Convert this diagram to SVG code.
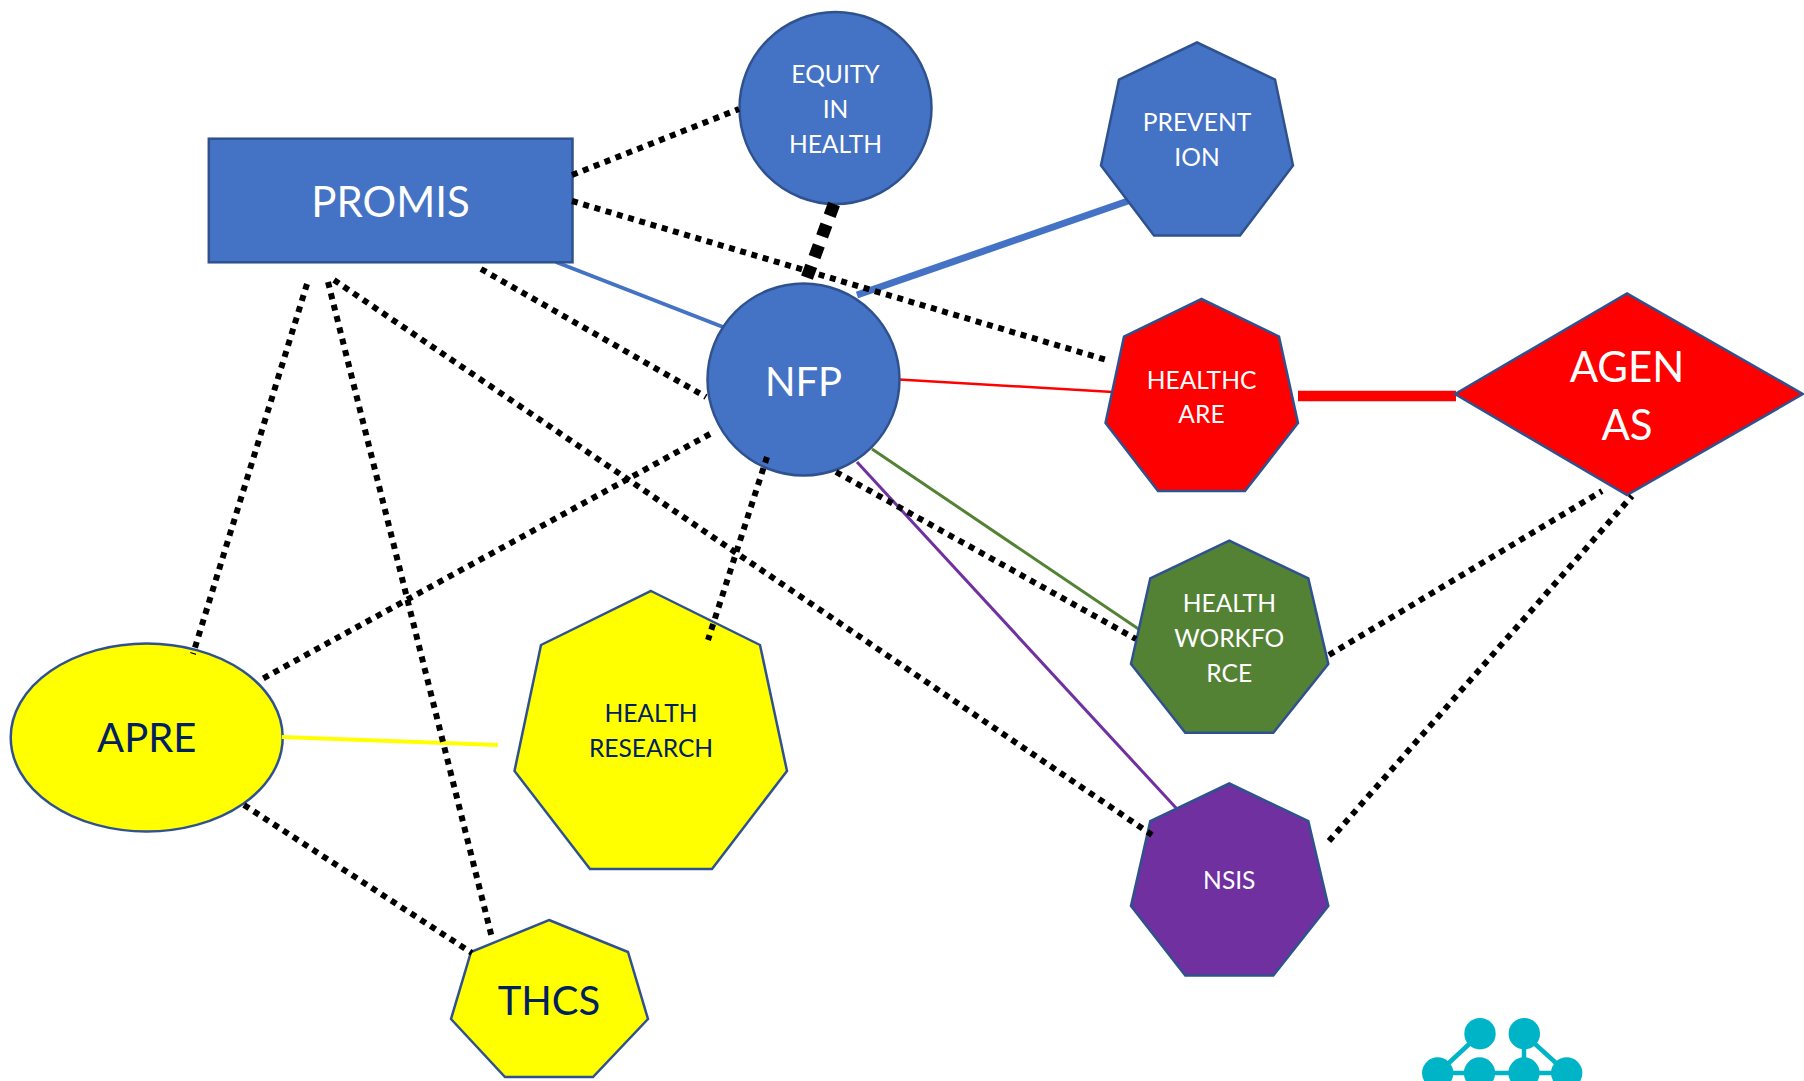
<svg xmlns="http://www.w3.org/2000/svg" width="1804" height="1081" viewBox="0 0 1804 1081">
<style>
.shape{stroke:#2F528F;stroke-width:2.5}
.blue{fill:#4472C4}.red{fill:#FF0000}.green{fill:#548235}.purple{fill:#7030A0}.yellow{fill:#FFFF00}
text{font-family:Lato,"Liberation Sans",sans-serif;text-anchor:middle;fill:#fff}
.s{font-size:24.6px}.l{font-size:40px}.p{font-size:42px}.xl{font-size:42px}
.navy{fill:#002060}
.dot{stroke:#000;stroke-width:6;stroke-dasharray:6 5.700;fill:none}
.dot2{stroke:#000;stroke-width:12.500;stroke-dasharray:12.500 9.500;fill:none}
.logo{fill:#00B4C8}
.logol{stroke:#00B4C8;stroke-width:4.5}
</style>
<rect width="1804" height="1081" fill="#fff"/>
<g id="connectors-under">
<line x1="556" y1="262" x2="723" y2="327" stroke="#4472C4" stroke-width="4"/>
<line x1="857" y1="295" x2="1128" y2="201" stroke="#4472C4" stroke-width="7"/>
<line x1="899" y1="379.500" x2="1113" y2="392" stroke="#FF0000" stroke-width="2.5"/>
<line x1="1298" y1="396" x2="1456" y2="396" stroke="#FF0000" stroke-width="10.5"/>
<line x1="872" y1="449" x2="1140" y2="630" stroke="#548235" stroke-width="3"/>
<line x1="857" y1="462" x2="1177" y2="809" stroke="#7030A0" stroke-width="3"/>
</g>
<g id="promis"><rect class="shape blue" x="208.800" y="138.700" width="363.700" height="123.600"/><text class="p" x="390.500" y="217">PROMIS</text></g>
<g id="equity"><circle class="shape blue" cx="835.500" cy="108" r="96"/><text class="s" x="835.500" y="83">EQUITY</text><text class="s" x="835.500" y="117.500">IN</text><text class="s" x="835.500" y="152.500">HEALTH</text></g>
<g id="prevention"><polygon class="shape blue" points="1197,42.500 1275,79.500 1293,165.500 1240,235.500 1154,235.500 1101,165.500 1119,79.500"/><text class="s" x="1197" y="131">PREVENT</text><text class="s" x="1197" y="165.500">ION</text></g>
<g id="nfp"><circle class="shape blue" cx="803.500" cy="379.500" r="96"/><text class="l" x="803.500" y="396">NFP</text></g>
<g id="healthcare"><polygon class="shape red" points="1201.500,299 1279,336.500 1298,423 1245,491 1158,491 1105.500,423 1124,336.500"/><text class="s" x="1201.500" y="388.500">HEALTHC</text><text class="s" x="1201.500" y="423">ARE</text></g>
<g id="agenas"><polygon class="shape red" points="1455,394 1627,293.500 1803,394 1627,495"/><text class="xl" x="1627" y="382">AGEN</text><text class="xl" x="1627" y="440">AS</text></g>
<g id="workforce"><polygon class="shape green" points="1229.300,540.700 1308.300,578.300 1328.300,664 1273.300,732.700 1185.300,732.700 1131,664 1150.300,578.300"/><text class="s" x="1229.300" y="612">HEALTH</text><text class="s" x="1229.300" y="647">WORKFO</text><text class="s" x="1229.300" y="682">RCE</text></g>
<g id="nsis"><polygon class="shape purple" points="1229.300,783.500 1308.300,821 1328.300,906 1273.300,975.500 1185.300,975.500 1131,906 1150.300,821"/><text class="s" x="1229.300" y="889">NSIS</text></g>
<g id="apre"><ellipse class="shape yellow" cx="146.700" cy="737.500" rx="136" ry="94"/><text class="l navy" x="146.700" y="752">APRE</text></g>
<g id="research"><polygon class="shape yellow" points="651,591 760,645 787,771 712,869 590,869 514.500,771 541,645"/><text class="s navy" x="651" y="722">HEALTH</text><text class="s navy" x="651" y="757">RESEARCH</text></g>
<g id="thcs"><polygon class="shape yellow" points="549,920 628,952 648,1019 593,1077 505,1077 451,1019 471,952"/><text class="l navy" x="549" y="1015">THCS</text></g>
<g id="connectors">
<line x1="282" y1="737" x2="498" y2="745" stroke="#FFFF00" stroke-width="4"/>
<line class="dot" x1="572" y1="175" x2="739" y2="109"/>
<line class="dot" x1="572" y1="201" x2="1110" y2="361"/>
<line class="dot" x1="481" y1="269" x2="706" y2="397"/>
<line class="dot" x1="307" y1="284" x2="193" y2="654"/>
<line class="dot" x1="328" y1="282" x2="492" y2="938"/>
<line class="dot" x1="334" y1="280" x2="1152" y2="835"/>
<line class="dot2" x1="834" y1="204" x2="805" y2="283"/>
<line class="dot" x1="836" y1="472" x2="1136" y2="639"/>
<line class="dot" x1="710" y1="434" x2="262" y2="679"/>
<line class="dot" x1="767" y1="457" x2="708" y2="640"/>
<line class="dot" x1="244" y1="805" x2="472" y2="953"/>
<line class="dot" x1="1329" y1="655" x2="1602" y2="491"/>
<line class="dot" x1="1329" y1="841" x2="1632" y2="496"/>
</g>
<g id="logo">
<path class="logol" d="M1438 1073L1480 1034M1438 1073H1567M1524 1034V1073M1524 1034L1567 1073" fill="none"/>
<circle class="logo" cx="1480" cy="1033.700" r="15.700"/><circle class="logo" cx="1524.300" cy="1033.700" r="15.700"/>
<circle class="logo" cx="1437.700" cy="1073" r="15.700"/><circle class="logo" cx="1479.500" cy="1073" r="15.700"/><circle class="logo" cx="1524" cy="1073" r="15.700"/><circle class="logo" cx="1566.700" cy="1073" r="15.700"/>
</g>
</svg>
